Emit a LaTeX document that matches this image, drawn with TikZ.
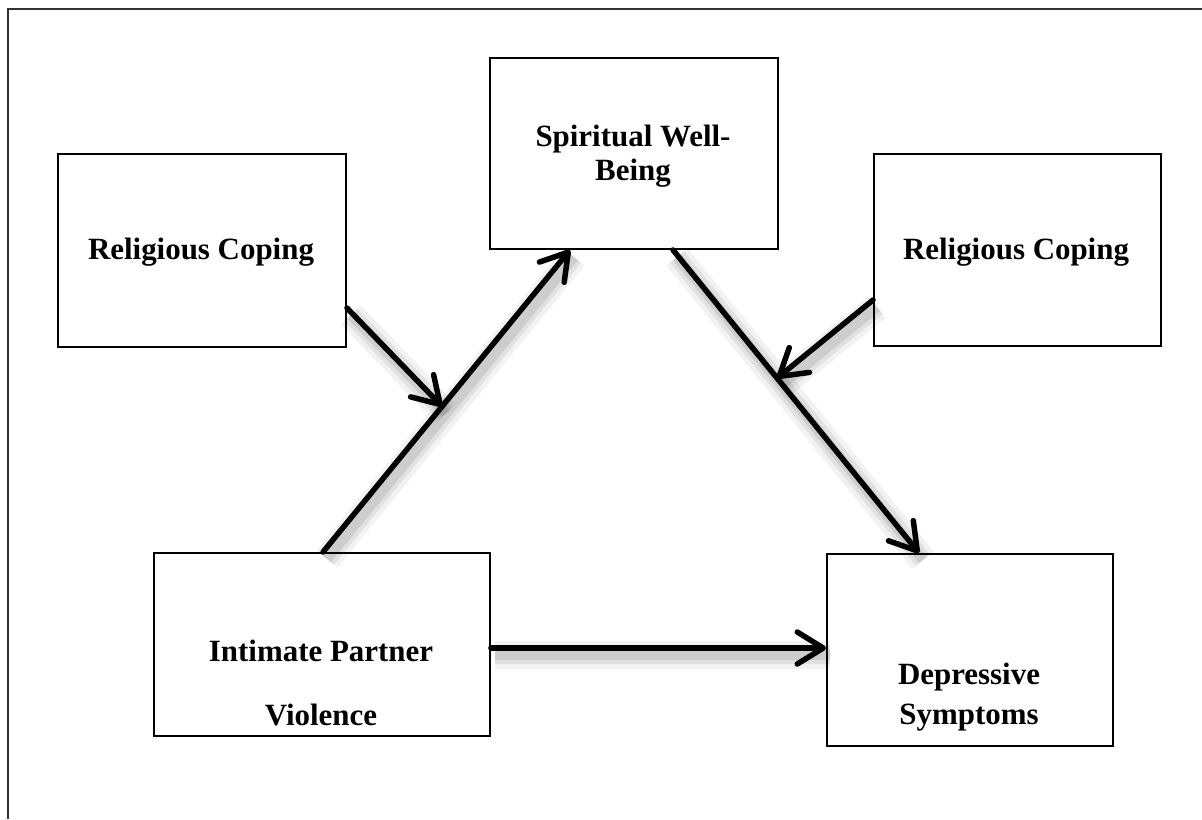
\documentclass[tikz,border=0pt]{standalone}
\usepackage{fontspec}
\setmainfont{Liberation Serif}
\usetikzlibrary{arrows.meta,calc}
\begin{document}
\begin{tikzpicture}[x=0.02cm,y=-0.02cm,
  box/.style={draw, line width=0.04cm, anchor=north west, inner sep=0pt},
  lbl/.style={anchor=base, inner sep=0pt, font=\fontsize{17.6}{20}\selectfont\bfseries},
  conn/.style={line width=0.11cm, line cap=round,
    -{Straight Barb[length=0.52cm,width=0.64cm,round]},
    preaction={-, draw=black, opacity=0.05, line width=0.55cm, transform canvas={shift={(0.08cm,-0.14cm)}}},
    preaction={-, draw=black, opacity=0.07, line width=0.36cm, transform canvas={shift={(0.08cm,-0.14cm)}}},
    preaction={-, draw=black, opacity=0.09, line width=0.2cm, transform canvas={shift={(0.08cm,-0.14cm)}}}},
  frame/.style={draw=black!80, line width=0.05cm}]
\useasboundingbox (0,0) rectangle (1202,819);
% outer frame (right and bottom edges cropped)
\draw[frame] (8,819) -- (8,9) -- (1202,9);
% boxes
\node[box, minimum width=5.76cm, minimum height=3.86cm] (rcl) at (57,153) {};
\node[box, minimum width=5.76cm, minimum height=3.82cm] (swb) at (489,57) {};
\node[box, minimum width=5.74cm, minimum height=3.84cm] (rcr) at (873,153) {};
\node[box, minimum width=6.72cm, minimum height=3.66cm] (ipv) at (153,552) {};
\node[box, minimum width=5.72cm, minimum height=3.84cm] (ds) at (826,553) {};
% labels
\node[lbl] (rcl-t) at (201,259) {Religious Coping};
\node[lbl] (swb-t1) at (633,146) {Spiritual Well-};
\node[lbl] (swb-t2) at (633,180) {Being};
\node[lbl] (rcr-t) at (1016,259) {Religious Coping};
\node[lbl] (ipv-t1) at (321,661) {Intimate Partner};
\node[lbl] (ipv-t2) at (321,725) {Violence};
\node[lbl] (ds-t1) at (969,684) {Depressive};
\node[lbl] (ds-t2) at (969,724) {Symptoms};
% connector anchor points
\coordinate (ipvTop) at ($(ipv.north west)+(170,0)$);
\coordinate (swbBotL) at ($(swb.south west)+(81,0)$);
\coordinate (swbBotR) at ($(swb.south west)+(184,0)$);
\coordinate (dsTop) at ($(ds.north west)+(93,0)$);
\coordinate (rclR) at ($(rcl.north east)+(0,155)$);
\coordinate (rcrL) at ($(rcr.north west)+(0,147)$);
\coordinate (ipvR) at ($(ipv.north east)+(0,96)$);
\coordinate (dsL) at (ds.west |- ipvR);
\path (ipvTop) -- (swbBotL) coordinate[pos=0.482] (m1);
\path (swbBotR) -- (dsTop) coordinate[pos=0.423] (m2);
% connectors
\draw[conn] (ipvTop) -- (swbBotL);
\draw[conn] (swbBotR) -- (dsTop);
\draw[conn] (rclR) -- (m1);
\draw[conn] (rcrL) -- (m2);
\draw[conn] (ipvR) -- (dsL);
\end{tikzpicture}
\end{document}
